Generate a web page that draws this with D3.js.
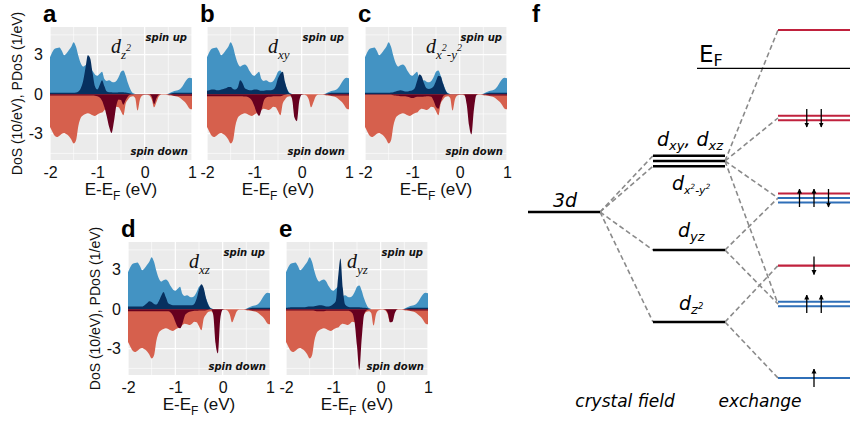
<!DOCTYPE html>
<html><head><meta charset="utf-8">
<script src="https://cdn.jsdelivr.net/npm/d3@7"></script>
<style>body{margin:0;background:#fff}svg{display:block}</style>
</head><body>
<svg id="chart" width="850" height="424"></svg>
<script>
// ---------------- DATA ----------------
const energy = [-2.00,-1.95,-1.90,-1.85,-1.80,-1.75,-1.70,-1.65,-1.60,-1.55,
  -1.50,-1.45,-1.40,-1.35,-1.30,-1.25,-1.20,-1.15,-1.10,-1.05,
  -1.00,-0.95,-0.90,-0.85,-0.80,-0.75,-0.70,-0.65,-0.60,-0.55,
  -0.50,-0.45,-0.40,-0.35,-0.30,-0.25,-0.20,-0.15,-0.10,-0.05,
  0.00,0.05,0.10,0.15,0.20,0.25,0.30,0.35,0.40,0.45,
  0.50,0.55,0.60,0.65,0.70,0.75,0.80,0.85,0.90,0.95,1.00];

// total DoS (10/eV)
const dosUp = [2.8,3.2,3.45,3.5,3.55,3.3,2.95,3.1,3.35,3.6,
  3.95,3.6,2.9,2.35,2.1,2.2,2.25,2.1,1.75,1.5,
  1.4,1.55,1.7,1.15,1.0,1.05,0.95,0.9,1.0,1.3,
  1.7,1.8,1.4,0.8,0.35,0.08,0.02,0,0,0,
  0,0,0,0,0,0,0,0,0,0,
  0.03,0.12,0.2,0.25,0.3,0.4,0.6,0.9,1.15,1.25,1.2];
const dosDown = [-2.5,-2.85,-3.15,-3.25,-3.15,-3.0,-2.95,-3.05,-3.2,-3.45,
  -3.75,-3.5,-2.4,-1.8,-1.6,-1.5,-1.45,-1.5,-1.6,-1.65,
  -1.55,-1.45,-1.4,-1.2,-1.1,-1.15,-1.2,-1.1,-0.95,-1.0,
  -1.3,-1.6,-0.7,-0.4,-0.2,-0.15,-0.3,-1.25,-0.4,-0.1,
  -0.05,-0.05,-0.1,-0.4,-1.0,-0.6,-0.15,-0.05,-0.05,-0.05,
  -0.08,-0.1,-0.12,-0.15,-0.2,-0.3,-0.45,-0.6,-0.85,-1.1,-1.15];

// projected DoS (1/eV)
const pz2Up = [0.1,0.1,0.1,0.1,0.1,0.1,0.1,0.1,0.1,0.1,
  0.1,0.12,0.2,0.45,1.0,2.0,2.95,2.7,1.6,0.6,
  0.35,0.7,1.05,0.6,0.2,0.15,0.15,0.12,0.12,0.15,
  0.15,0.15,0.12,0.08,0.05,0.02,0,0,0,0,
  0,0,0,0,0,0,0,0,0,0,
  0.02,0.05,0.08,0.1,0.1,0.1,0.1,0.1,0.1,0.1,0.1];
const pz2Down = [-0.1,-0.1,-0.1,-0.1,-0.1,-0.1,-0.1,-0.1,-0.1,-0.1,
  -0.1,-0.1,-0.1,-0.1,-0.1,-0.1,-0.1,-0.1,-0.1,-0.12,
  -0.15,-0.25,-0.5,-1.0,-1.7,-2.5,-2.95,-2.1,-0.9,-0.4,
  -0.45,-0.8,-0.45,-0.15,-0.05,-0.02,-0.02,-0.02,-0.02,-0.02,
  -0.02,-0.02,-0.02,-0.2,-0.75,-0.3,-0.05,0,0,0,
  -0.02,-0.05,-0.1,-0.12,-0.12,-0.12,-0.12,-0.12,-0.12,-0.12,-0.12];
const pxyUp = [0.25,0.3,0.35,0.35,0.3,0.3,0.35,0.4,0.45,0.55,
  0.55,0.4,0.35,0.5,1.05,0.85,0.45,0.35,0.3,0.3,
  0.35,0.35,0.3,0.25,0.25,0.3,0.3,0.3,0.35,0.6,
  1.2,1.55,1.7,0.9,0.3,0.05,0,0,0,0,
  0,0,0,0,0,0,0,0,0,0,
  0.02,0.05,0.08,0.1,0.1,0.1,0.1,0.1,0.1,0.1,0.1];
const pxyDown = [-0.15,-0.15,-0.15,-0.15,-0.15,-0.15,-0.15,-0.15,-0.15,-0.15,
  -0.15,-0.15,-0.15,-0.15,-0.15,-0.15,-0.18,-0.2,-0.3,-0.5,
  -0.9,-1.4,-1.65,-1.2,-0.5,-0.25,-0.2,-0.2,-0.15,-0.15,
  -0.15,-0.15,-0.1,-0.05,0,-0.02,-0.4,-1.8,-2.05,-0.5,
  -0.05,0,0,0,0,0,0,0,0,0,
  -0.02,-0.05,-0.08,-0.1,-0.1,-0.1,-0.1,-0.1,-0.1,-0.1,-0.1];
const px2y2Up = [0.1,0.1,0.1,0.1,0.1,0.1,0.1,0.1,0.1,0.1,
  0.1,0.12,0.15,0.2,0.25,0.3,0.25,0.2,0.2,0.25,
  0.3,0.45,1.0,1.5,1.35,0.8,0.45,0.4,0.45,0.6,
  1.0,1.4,1.35,0.8,0.3,0.05,0,0,0,0,
  0,0,0,0,0,0,0,0,0,0,
  0.02,0.05,0.08,0.1,0.1,0.1,0.1,0.1,0.1,0.1,0.1];
const px2y2Down = [-0.05,-0.05,-0.05,-0.05,-0.05,-0.05,-0.05,-0.05,-0.05,-0.05,
  -0.05,-0.05,-0.08,-0.1,-0.12,-0.15,-0.15,-0.15,-0.2,-0.25,
  -0.3,-0.25,-0.2,-0.2,-0.2,-0.18,-0.15,-0.15,-0.2,-0.5,
  -0.95,-1.1,-0.6,-0.15,-0.05,-0.02,-0.02,-0.02,-0.02,-0.02,
  -0.02,-0.02,-0.05,-0.8,-2.4,-3.05,-1.2,-0.1,0,0,
  -0.02,-0.05,-0.08,-0.1,-0.1,-0.1,-0.1,-0.1,-0.1,-0.1,-0.1];
const pxzUp = [0.2,0.2,0.2,0.2,0.2,0.2,0.2,0.3,0.45,0.6,
  0.55,0.4,0.35,0.6,1.0,1.3,0.9,0.45,0.35,0.3,
  0.3,0.3,0.3,0.3,0.3,0.3,0.3,0.3,0.4,0.8,
  1.5,1.9,1.6,0.8,0.3,0.05,0,0,0,0,
  0,0,0,0,0,0,0,0,0,0,
  0.02,0.05,0.08,0.1,0.1,0.1,0.1,0.1,0.1,0.1,0.1];
const pxzDown = [-0.15,-0.15,-0.15,-0.15,-0.15,-0.15,-0.15,-0.15,-0.15,-0.15,
  -0.15,-0.15,-0.15,-0.15,-0.15,-0.15,-0.15,-0.15,-0.25,-0.5,
  -0.95,-1.35,-1.45,-1.1,-0.5,-0.3,-0.2,-0.15,-0.12,-0.12,
  -0.1,-0.1,-0.1,-0.08,-0.05,0,-0.4,-2.6,-3.35,-0.7,
  -0.05,0,0,0,0,0,0,0,0,0,
  -0.02,-0.05,-0.08,-0.1,-0.1,-0.1,-0.1,-0.1,-0.1,-0.1,-0.1];
const pyzUp = [0.1,0.12,0.15,0.15,0.15,0.15,0.15,0.15,0.15,0.18,
  0.2,0.2,0.22,0.25,0.3,0.3,0.25,0.2,0.2,0.25,
  0.4,0.6,2.4,3.85,1.6,0.35,0.2,0.15,0.15,0.15,
  0.15,0.15,0.12,0.1,0.08,0.03,0,0,0,0,
  0,0,0,0,0,0,0,0,0,0,
  0.02,0.05,0.08,0.1,0.1,0.1,0.1,0.1,0.1,0.1,0.1];
const pyzDown = [-0.1,-0.1,-0.1,-0.1,-0.1,-0.1,-0.1,-0.1,-0.1,-0.1,
  -0.1,-0.1,-0.12,-0.15,-0.15,-0.15,-0.15,-0.12,-0.12,-0.12,
  -0.12,-0.12,-0.12,-0.12,-0.12,-0.12,-0.12,-0.15,-0.3,-1.0,
  -2.8,-4.6,-2.2,-0.4,-0.1,-0.02,0,0,0,0,
  0,0,-0.05,-0.3,-1.0,-0.95,-0.3,-0.02,0,0,
  -0.02,-0.05,-0.08,-0.1,-0.1,-0.1,-0.1,-0.1,-0.1,-0.1,-0.1];

const xTicks = [-2, -1, 0, 1];
const xMinor = [-1.5, -0.5, 0.5];
const yTicks = [-3, 0, 3];
const yMinor = [-4.5, -1.5, 1.5, 4.5];
const panelLetters = ['a', 'b', 'c', 'd', 'e'];
const orbitalLabels = [
  [['d','m'],['z','sub'],['2','sup']],
  [['d','m'],['xy','sub']],
  [['d','m'],['x','sub'],['2','sup'],['-','sub'],['y','sub'],['2','sup']],
  [['d','m'],['xz','sub']],
  [['d','m'],['yz','sub']]
];
const pdosUpSeries = [pz2Up, pxyUp, px2y2Up, pxzUp, pyzUp];
const pdosDownSeries = [pz2Down, pxyDown, px2y2Down, pxzDown, pyzDown];

// level diagram (arbitrary energy units)
const level3d = 52;
const cfLevels = [
  {e: 64.75, n: 3},
  {e: 42.5, n: 1},
  {e: 24.5, n: 1}
];
const exLevels = [
  {e: 97.5, lines: ['dn'], arrows: []},
  {e: 75.5, lines: ['dn','dn'], arrows: ['dn','dn']},
  {e: 55.5, lines: ['dn','up','up'], arrows: ['up','up','dn']},
  {e: 38.6, lines: ['dn'], arrows: ['dn']},
  {e: 29, lines: ['up','up'], arrows: ['up','up']},
  {e: 10.5, lines: ['up'], arrows: ['up']}
];
const fermiLevel = 87.9;
const cfToEx = [[0,0],[0,1],[0,2],[0,4],[1,2],[1,4],[2,3],[2,5]];

// ---------------- DRAW ----------------
const svg = d3.select('#chart');
const PW = 142, PH = 133;
const C = {bg:'#ebebeb', up:'#4393c3', dn:'#d6604d', pup:'#07305f', pdn:'#67001f'};
const SANS = "'Liberation Sans', Arial, sans-serif";
const layout = [
  {x0:50, y0:27, yAxis:true}, {x0:207, y0:27}, {x0:365, y0:27},
  {x0:128, y0:242, yAxis:true}, {x0:286, y0:242}
];
const defs = svg.append('defs');

layout.forEach((L, p) => {
  const g = svg.append('g').attr('transform', `translate(${L.x0},${L.y0})`);
  const x = d3.scaleLinear().domain([-2, 1]).range([0, PW]);
  const y = d3.scaleLinear().domain([-5, 5.1]).range([PH, 0]);
  defs.append('clipPath').attr('id', 'clip' + p)
    .append('rect').attr('width', PW).attr('height', PH);

  g.append('rect').attr('width', PW).attr('height', PH).attr('fill', C.bg);
  const grid = g.append('g');
  grid.selectAll('.vm').data(xMinor).join('line')
    .attr('x1', d => x(d)).attr('x2', d => x(d)).attr('y1', 0).attr('y2', PH)
    .attr('stroke', '#fff').attr('stroke-width', 0.6);
  grid.selectAll('.hm').data(yMinor).join('line')
    .attr('y1', d => y(d)).attr('y2', d => y(d)).attr('x1', 0).attr('x2', PW)
    .attr('stroke', '#fff').attr('stroke-width', 0.6);
  grid.selectAll('.vM').data(xTicks).join('line')
    .attr('x1', d => x(d)).attr('x2', d => x(d)).attr('y1', 0).attr('y2', PH)
    .attr('stroke', '#fff').attr('stroke-width', 1.2);
  grid.selectAll('.hM').data(yTicks).join('line')
    .attr('y1', d => y(d)).attr('y2', d => y(d)).attr('x1', 0).attr('x2', PW)
    .attr('stroke', '#fff').attr('stroke-width', 1.2);

  const area = d3.area()
    .x((d, i) => x(energy[i])).y0(y(0)).y1(d => y(d))
    .curve(d3.curveMonotoneX);
  const plot = g.append('g').attr('clip-path', `url(#clip${p})`);
  plot.append('path').attr('d', area(dosUp)).attr('fill', C.up);
  plot.append('path').attr('d', area(dosDown)).attr('fill', C.dn);
  plot.append('path').attr('d', area(pdosUpSeries[p])).attr('fill', C.pup);
  plot.append('path').attr('d', area(pdosDownSeries[p])).attr('fill', C.pdn);

  // x axis
  const xa = g.append('g').attr('transform', `translate(0,${PH})`)
    .call(d3.axisBottom(x).tickValues(xTicks).tickSize(0).tickPadding(7).tickFormat(d => String(d)));
  xa.select('.domain').remove();
  xa.selectAll('text').attr('font-family', SANS).attr('font-size', 16).attr('fill', '#111');
  const xt = g.append('text').attr('x', PW / 2).attr('y', PH + 35)
    .attr('text-anchor', 'middle').attr('font-family', SANS).attr('font-size', 17).attr('fill', '#111');
  xt.append('tspan').text('E-E');
  xt.append('tspan').text('F').attr('font-size', 12).attr('dy', 5);
  xt.append('tspan').text(' (eV)').attr('dy', -5);

  if (L.yAxis) {
    const ya = g.append('g')
      .call(d3.axisLeft(y).tickValues(yTicks).tickSize(0).tickPadding(7).tickFormat(d => String(d)));
    ya.select('.domain').remove();
    ya.selectAll('text').attr('font-family', SANS).attr('font-size', 16).attr('fill', '#111');
    g.append('text').attr('transform', `translate(-28,${PH / 2}) rotate(-90)`)
      .attr('text-anchor', 'middle').attr('font-family', SANS).attr('font-size', 14).attr('fill', '#111')
      .text('DoS (10/eV), PDoS (1/eV)');
  }

  // panel letter
  svg.append('text').attr('x', L.x0 - 7).attr('y', L.y0 - 5)
    .attr('font-family', SANS).attr('font-weight', 'bold').attr('font-size', 24).attr('fill', '#000')
    .text(panelLetters[p]);

  // spin labels
  const spinStyle = s => s.attr('font-family', "'DejaVu Sans', sans-serif").attr('font-weight', 'bold')
    .attr('font-style', 'italic').attr('font-size', 10).attr('text-anchor', 'end').attr('fill', '#111');
  g.append('text').attr('x', PW - 5).attr('y', 14).call(spinStyle).text('spin up');
  g.append('text').attr('x', PW - 4).attr('y', PH - 5).call(spinStyle).text('spin down');

  // orbital label
  const ol = g.append('text').attr('x', 61).attr('y', 26)
    .attr('font-family', "'Liberation Serif', 'Times New Roman', serif").attr('font-style', 'italic').attr('fill', '#111');
  orbitalLabels[p].forEach(([t, k]) => {
    const ts = ol.append('tspan').text(t);
    if (k === 'm') ts.attr('font-size', 20).attr('y', 26);
    else if (k === 'sub') ts.attr('font-size', 13).attr('y', 32);
    else ts.attr('font-size', 10).attr('y', 24);
  });
});

// ---------------- panel f ----------------
const fy = d3.scaleLinear().domain([0, 100]).range([420, 20]);
const X3d = [528, 600], XCF = [653, 725], XEX = [778, 850];
const LC = {up: '#2f6fb8', dn: '#c0213d'};
const FSANS = "'DejaVu Sans', sans-serif";

svg.append('text').attr('x', 532).attr('y', 22).attr('font-family', SANS)
  .attr('font-weight', 'bold').attr('font-size', 24).text('f');

const fg = svg.append('g');
const dash = s => s.attr('stroke', '#8a8a8a').attr('stroke-width', 1.6).attr('stroke-dasharray', '5,3').attr('fill', 'none');

// dashed connectors
const cfSpacing = 5.3, exSpacing = 4.5;
[-1, 1].forEach(o => {
  fg.append('line').attr('x1', X3d[1]).attr('y1', fy(level3d))
    .attr('x2', XCF[0]).attr('y2', fy(cfLevels[0].e) + o * cfSpacing).call(dash);
});
cfLevels.slice(1).forEach(l => {
  fg.append('line').attr('x1', X3d[1]).attr('y1', fy(level3d))
    .attr('x2', XCF[0]).attr('y2', fy(l.e)).call(dash);
});
cfToEx.forEach(([a, b]) => {
  fg.append('line').attr('x1', XCF[1]).attr('y1', fy(cfLevels[a].e))
    .attr('x2', XEX[0]).attr('y2', fy(exLevels[b].e)).call(dash);
});

// 3d level
fg.append('line').attr('x1', X3d[0]).attr('x2', X3d[1]).attr('y1', fy(level3d)).attr('y2', fy(level3d))
  .attr('stroke', '#000').attr('stroke-width', 2.5);
// crystal-field levels
cfLevels.forEach(l => {
  d3.range(l.n).forEach(k => {
    const yy = fy(l.e) + (k - (l.n - 1) / 2) * cfSpacing;
    fg.append('line').attr('x1', XCF[0]).attr('x2', XCF[1]).attr('y1', yy).attr('y2', yy)
      .attr('stroke', '#000').attr('stroke-width', 2.5);
  });
});
// Fermi level
fg.append('line').attr('x1', 697).attr('x2', 850).attr('y1', fy(fermiLevel)).attr('y2', fy(fermiLevel))
  .attr('stroke', '#000').attr('stroke-width', 1.4);
const ef = fg.append('text').attr('x', 699).attr('y', 62)
  .attr('font-family', FSANS).attr('font-size', 23).attr('fill', '#000');
ef.append('tspan').text('E');
ef.append('tspan').text('F').attr('font-size', 16).attr('dy', 4);

// arrow marker
defs.append('marker').attr('id', 'ah').attr('viewBox', '0 0 10 10').attr('refX', 9).attr('refY', 5)
  .attr('markerWidth', 5).attr('markerHeight', 6).attr('markerUnits', 'userSpaceOnUse').attr('orient', 'auto')
  .append('path').attr('d', 'M0,0 L10,5 L0,10 z').attr('fill', '#000');

// exchange levels
exLevels.forEach(l => {
  const n = l.lines.length;
  l.lines.forEach((s, k) => {
    const yy = fy(l.e) + (k - (n - 1) / 2) * exSpacing;
    fg.append('line').attr('x1', XEX[0]).attr('x2', XEX[1]).attr('y1', yy).attr('y2', yy)
      .attr('stroke', LC[s]).attr('stroke-width', 2.2);
  });
  const m = l.arrows.length;
  l.arrows.forEach((s, k) => {
    const ax = 814 + (k - (m - 1) / 2) * 14.5;
    const yc = fy(l.e);
    const y1 = s === 'up' ? yc + 9 : yc - 9, y2 = s === 'up' ? yc - 9 : yc + 9;
    fg.append('line').attr('x1', ax).attr('x2', ax).attr('y1', y1).attr('y2', y2)
      .attr('stroke', '#000').attr('stroke-width', 1.3).attr('marker-end', 'url(#ah)');
  });
});

// labels
function flabel(parts, x, y, main, sub) {
  const t = fg.append('text').attr('x', x).attr('y', y).attr('font-family', FSANS)
    .attr('font-style', 'italic').attr('fill', '#000');
  parts.forEach(([s, k]) => {
    const ts = t.append('tspan').text(s);
    if (k === 'm') ts.attr('font-size', main).attr('y', y);
    else if (k === 'sub') ts.attr('font-size', sub).attr('y', y + 4);
    else ts.attr('font-size', sub * 0.65).attr('y', y - 1);
  });
}
flabel([['3d','m']], 553, 207, 19, 13);
flabel([['d','m'],['xy','sub'],[', ','m'],['d','m'],['xz','sub']], 657, 146, 19, 13);
flabel([['d','m'],['x','sub'],['2','sup'],['-','sub'],['y','sub'],['2','sup']], 672, 190, 19, 11);
flabel([['d','m'],['yz','sub']], 678, 237, 19, 13);
flabel([['d','m'],['z','sub'],['2','sup']], 679, 310, 19, 13);

fg.append('text').attr('x', 625).attr('y', 407).attr('text-anchor', 'middle')
  .attr('font-family', FSANS).attr('font-style', 'italic').attr('font-size', 17).text('crystal field');
fg.append('text').attr('x', 760).attr('y', 407).attr('text-anchor', 'middle')
  .attr('font-family', FSANS).attr('font-style', 'italic').attr('font-size', 17).text('exchange');
</script>
</body></html>
